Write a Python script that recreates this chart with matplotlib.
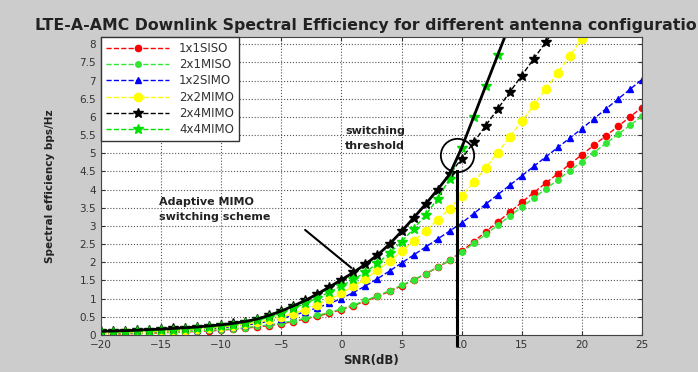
import matplotlib
matplotlib.use("Agg")
import matplotlib.pyplot as plt
import numpy as np

# SNR axis, one point per dB
snr = np.arange(-20, 26)

siso_1x1 = [0.02, 0.03, 0.03, 0.04, 0.05, 0.06, 0.07, 0.08, 0.10, 0.11,
            0.13, 0.16, 0.19, 0.22, 0.26, 0.31, 0.37, 0.44, 0.52, 0.60,
            0.70, 0.81, 0.93, 1.06, 1.20, 1.35, 1.51, 1.68, 1.86, 2.05,
            2.30, 2.57, 2.84, 3.11, 3.38, 3.65, 3.92, 4.18, 4.44, 4.70,
            4.96, 5.22, 5.48, 5.74, 6.00, 6.26]
miso_2x1 = [0.03, 0.04, 0.04, 0.05, 0.06, 0.07, 0.08, 0.09, 0.11, 0.13,
            0.15, 0.17, 0.20, 0.24, 0.28, 0.33, 0.39, 0.46, 0.54, 0.62,
            0.72, 0.83, 0.95, 1.08, 1.22, 1.37, 1.52, 1.69, 1.87, 2.06,
            2.27, 2.52, 2.77, 3.02, 3.27, 3.52, 3.77, 4.02, 4.27, 4.52,
            4.77, 5.02, 5.27, 5.52, 5.77, 6.02]
simo_1x2 = [0.04, 0.05, 0.06, 0.07, 0.08, 0.09, 0.11, 0.13, 0.15, 0.17,
            0.20, 0.23, 0.27, 0.32, 0.38, 0.45, 0.54, 0.64, 0.75, 0.87,
            1.00, 1.17, 1.35, 1.55, 1.76, 1.98, 2.20, 2.42, 2.64, 2.86,
            3.08, 3.34, 3.60, 3.86, 4.12, 4.38, 4.64, 4.90, 5.16, 5.42,
            5.68, 5.95, 6.22, 6.49, 6.76, 7.03]
mimo_2x2 = [0.05, 0.06, 0.07, 0.08, 0.09, 0.10, 0.12, 0.14, 0.16, 0.19,
            0.22, 0.26, 0.30, 0.35, 0.42, 0.50, 0.59, 0.70, 0.83, 0.98,
            1.15, 1.34, 1.55, 1.78, 2.03, 2.30, 2.58, 2.87, 3.17, 3.48,
            3.82, 4.20, 4.60, 5.02, 5.45, 5.88, 6.32, 6.77, 7.22, 7.68,
            8.14, 8.60]
mimo_2x4 = [0.10, 0.11, 0.12, 0.13, 0.15, 0.16, 0.18, 0.20, 0.22, 0.25,
            0.28, 0.32, 0.37, 0.44, 0.54, 0.66, 0.80, 0.95, 1.13, 1.32,
            1.52, 1.72, 1.95, 2.20, 2.50, 2.85, 3.22, 3.60, 4.00, 4.42,
            4.85, 5.30, 5.76, 6.22, 6.68, 7.14, 7.60, 8.06, 8.52]
mimo_4x4 = [0.07, 0.08, 0.09, 0.10, 0.11, 0.13, 0.14, 0.16, 0.18, 0.21,
            0.24, 0.28, 0.33, 0.40, 0.49, 0.60, 0.73, 0.87, 1.02, 1.18,
            1.35, 1.53, 1.73, 1.97, 2.25, 2.57, 2.92, 3.30, 3.75, 4.30,
            5.15, 6.00, 6.85, 7.70, 8.55]

labels = ["1x1SISO", "2x1MISO", "1x2SIMO", "2x2MIMO", "2x4MIMO", "4x4MIMO"]
series = [siso_1x1, miso_2x1, simo_1x2, mimo_2x2, mimo_2x4, mimo_4x4]
colors = ["#ff0000", "#33e633", "#0000ff", "#ffff00", "#000000", "#00e000"]
markers = ["o", "o", "^", "o", "*", "*"]
msizes = [4.5, 4, 5, 6, 7, 7]

fig = plt.figure(figsize=(6.98, 3.72), dpi=100, facecolor="#cccccc")
ax = fig.add_axes([0.1447, 0.0995, 0.775, 0.801])

for vals, lab, c, m, ms in zip(series, labels, colors, markers, msizes):
    ax.plot(snr[:len(vals)], vals, "--", color=c, marker=m, markersize=ms,
            markerfacecolor=c, markeredgecolor=c, linewidth=1, label=lab)

# adaptive switching envelope: best of 2x4 and 4x4
n = len(mimo_4x4)
adaptive = np.maximum(np.array(mimo_2x4[:n]), np.array(mimo_4x4))
ax.plot(snr[:n], adaptive, "-", color="black", linewidth=2)

# switching threshold marker and drop line
ax.plot([9.6], [4.95], "o", markersize=24, markerfacecolor="none",
        markeredgecolor="black", markeredgewidth=1.3)
ax.plot([9.6, 9.6], [4.5, -0.28], "-", color="black", linewidth=2.2, clip_on=False)

ax.text(0.3, 5.6, "switching", fontsize=8, fontweight="bold", va="center", color="#222222")
ax.text(0.3, 5.2, "threshold", fontsize=8, fontweight="bold", va="center", color="#222222")
ax.text(-15.2, 3.65, "Adaptive MIMO", fontsize=8, fontweight="bold", va="center", color="#222222")
ax.text(-15.2, 3.25, "switching scheme", fontsize=8, fontweight="bold", va="center", color="#222222")
ax.annotate("", xy=(1.0, 1.8), xytext=(-3.2, 2.94),
            arrowprops=dict(arrowstyle="-", color="black", linewidth=1.5))

ax.set_xlim(-20, 25)
ax.set_ylim(0, 8.2)
ax.set_xticks(np.arange(-20, 26, 5))
ax.set_yticks(np.arange(0, 8.01, 0.5))
ax.set_yticklabels([f"{v:g}" for v in np.arange(0, 8.01, 0.5)])
ax.tick_params(direction="in", top=True, right=True, labelsize=7.5,
               length=3, colors="#333333")
ax.grid(True, linestyle=":", color="#555555", linewidth=0.8)
for s in ax.spines.values():
    s.set_color("#444444")

ax.set_title("LTE-A-AMC Downlink Spectral Efficiency for different antenna configuration",
             fontsize=11.3, fontweight="bold", pad=5, color="#222222")
ax.set_xlabel("SNR(dB)", fontsize=8.5, fontweight="bold", labelpad=3, color="#222222")
ax.set_ylabel("Spectral efficiency bps/Hz", fontsize=7.5, fontweight="bold", labelpad=18,
              color="#222222")

leg = ax.legend(loc="upper left", bbox_to_anchor=(0, 1), borderaxespad=0,
                fancybox=False, edgecolor="#333333", fontsize=8.5, handlelength=5.4,
                labelspacing=0.28, framealpha=1)
for t in leg.get_texts():
    t.set_color("#333333")

plt.savefig("out.png", dpi=100, facecolor=fig.get_facecolor())
